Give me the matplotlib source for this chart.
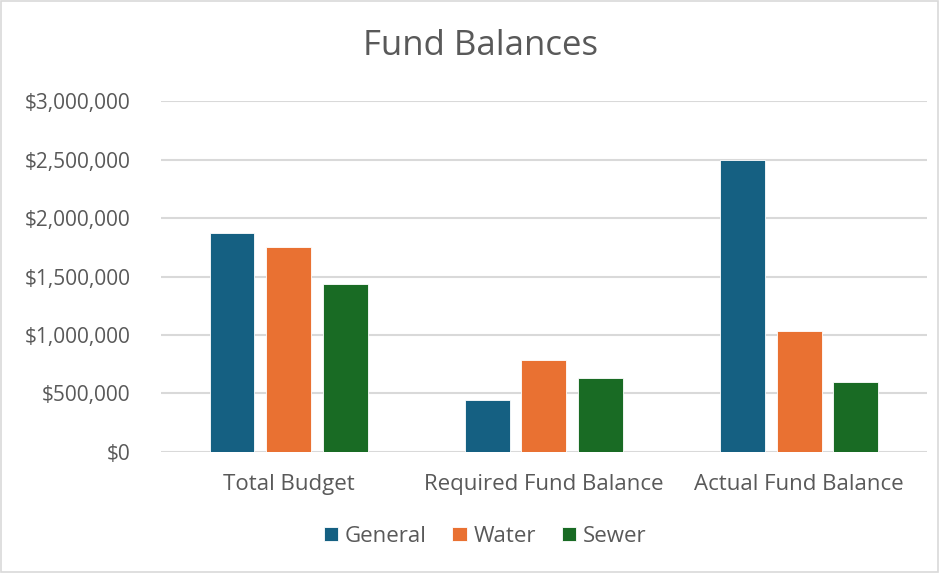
import matplotlib.pyplot as plt
import numpy as np
from matplotlib.ticker import FuncFormatter
from matplotlib.patches import Rectangle

categories = ['Total Budget', 'Required Fund Balance', 'Actual Fund Balance']
series_names = ['General', 'Water', 'Sewer']
general = [1869000, 441000, 2500000]
water = [1750000, 789000, 1032000]
sewer = [1436000, 630000, 598000]
colors = ['#156082', '#E97132', '#196B24']

TEXT = '#595959'
plt.rcParams['font.family'] = ['Open Sans', 'DejaVu Sans']

fig = plt.figure(figsize=(9.4, 5.73), dpi=100)
ax = fig.add_axes([0.1713, 0.2112, 0.8145, 0.6125])

x = np.arange(len(categories))
width = 0.176
step = 0.222
for i, (name, vals) in enumerate(zip(series_names, [general, water, sewer])):
    ax.bar(x + (i - 1) * step, vals, width, color=colors[i], label=name,
           edgecolor='white', linewidth=0.6, zorder=3)

ax.set_xlim(-0.5, 2.5)
ax.set_ylim(0, 3000000)
ax.set_yticks(np.arange(0, 3000001, 500000))
ax.yaxis.set_major_formatter(FuncFormatter(lambda v, p: '${:,.0f}'.format(v)))
ax.set_xticks(x)
ax.set_xticklabels(categories, fontsize=16)
ax.tick_params(axis='both', length=0, colors=TEXT)
ax.tick_params(axis='y', pad=22, labelsize=15)
ax.tick_params(axis='x', pad=16)
ax.grid(axis='y', color='#D9D9D9', linewidth=1.5, zorder=0)
for s in ax.spines.values():
    s.set_visible(False)

fig.text(0.511, 0.92, 'Fund Balances', ha='center', va='center', fontsize=25, color=TEXT)

fig.legend(loc='center', bbox_to_anchor=(0.516, 0.064), ncol=3, frameon=False,
           fontsize=16, labelcolor=TEXT, handlelength=0.65, handleheight=0.65,
           handletextpad=0.3, columnspacing=1.15)

fig.patches.append(Rectangle((0.001, 0.002), 0.997, 0.996, transform=fig.transFigure,
                             fill=False, edgecolor='#D9D9D9', linewidth=1.2))

fig.savefig('out.png', dpi=100)
